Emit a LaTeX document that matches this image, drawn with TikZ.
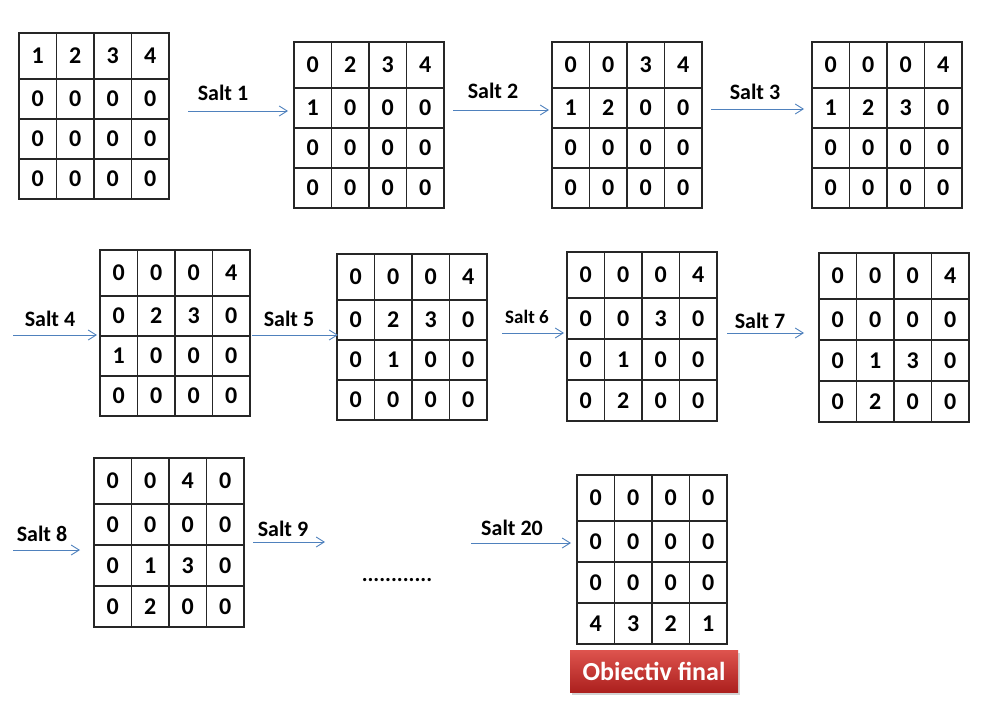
\documentclass[tikz,border=0pt]{standalone}
\usepackage{fontspec}
\setmainfont{Carlito}
\usetikzlibrary{arrows.meta,shadows}

\definecolor{fleche}{RGB}{79,129,189}
\definecolor{rougehaut}{RGB}{222,84,78}
\definecolor{rougebas}{RGB}{172,32,30}

% one 4x4 table: name, left, top, row height, rows
\newcommand{\grille}[5]{%
  \foreach \ligne [count=\i] in {#5} {
    \pgfmathsetmacro{\hc}{\i==1 ? 46 : #4}
    \pgfmathsetmacro{\yc}{\i==1 ? 23 : 46+(\i-1.5)*#4}
    \foreach \val [count=\j] in \ligne
      \node[cell, minimum height=\hc pt] (#1-\i-\j) at (#2+37.5*\j-18.75, #3+\yc) {\val};
  }
}

\begin{document}
\begin{tikzpicture}[x=1pt,y=-1pt]
    \tikzstyle{cell}=[draw=black!85, line width=1.2pt, minimum width=37.5pt, inner sep=0pt,
      font=\fontsize{24}{24}\selectfont\bfseries]
    \tikzstyle{salt}=[font=\fontsize{22}{22}\selectfont\bfseries, inner sep=0pt]
    \tikzstyle{pas}=[draw=fleche, line width=0.9pt, -{Straight Barb[length=8pt,width=10pt]}]
    \useasboundingbox (0,0) rectangle (981,706);

    % first row
    \grille{g1}{19}{33}{40}{{1,2,3,4},{0,0,0,0},{0,0,0,0},{0,0,0,0}}
    \grille{g2}{294}{42}{40}{{0,2,3,4},{1,0,0,0},{0,0,0,0},{0,0,0,0}}
    \grille{g3}{552}{42}{40}{{0,0,3,4},{1,2,0,0},{0,0,0,0},{0,0,0,0}}
    \grille{g4}{812}{42}{40}{{0,0,0,4},{1,2,3,0},{0,0,0,0},{0,0,0,0}}
    % second row
    \grille{g5}{100}{250}{40}{{0,0,0,4},{0,2,3,0},{1,0,0,0},{0,0,0,0}}
    \grille{g6}{337}{254}{40}{{0,0,0,4},{0,2,3,0},{0,1,0,0},{0,0,0,0}}
    \grille{g7}{567}{252}{41}{{0,0,0,4},{0,0,3,0},{0,1,0,0},{0,2,0,0}}
    \grille{g8}{819}{253}{41}{{0,0,0,4},{0,0,0,0},{0,1,3,0},{0,2,0,0}}
    % third row
    \grille{g9}{94}{458}{41}{{0,0,4,0},{0,0,0,0},{0,1,3,0},{0,2,0,0}}
    \grille{g10}{577}{475}{41}{{0,0,0,0},{0,0,0,0},{0,0,0,0},{4,3,2,1}}

    % arrow ends
    \coordinate (a1s) at (188,111);  \coordinate (a1e) at (288,111);
    \coordinate (a2s) at (453,110);  \coordinate (a2e) at (549,110);
    \coordinate (a3s) at (711,109);  \coordinate (a3e) at (804,109);
    \coordinate (a4s) at (13,335);   \coordinate (a4e) at (97,335);
    \coordinate (a5s) at (252,335);  \coordinate (a5e) at (338,335);
    \coordinate (a6s) at (502,333);  \coordinate (a6e) at (564,333);
    \coordinate (a7s) at (727,333);  \coordinate (a7e) at (804,333);
    \coordinate (a8s) at (13,550);   \coordinate (a8e) at (80,550);
    \coordinate (a9s) at (253,542);  \coordinate (a9e) at (325,542);
    \coordinate (a20s) at (471,543); \coordinate (a20e) at (571,543);

    \foreach \k in {1,...,9,20}
      \draw[pas] (a\k s) -- (a\k e);

    \node[salt] (s1) at (223,93) {Salt 1};
    \node[salt] (s2) at (493,91) {Salt 2};
    \node[salt] (s3) at (755,92) {Salt 3};
    \node[salt] (s4) at (50,319) {Salt 4};
    \node[salt] (s5) at (289,319) {Salt 5};
    \node[salt, font=\fontsize{19}{19}\selectfont\bfseries] (s6) at (527,317) {Salt 6};
    \node[salt] (s7) at (760,321) {Salt 7};
    \node[salt] (s8) at (42,534) {Salt 8};
    \node[salt] (s9) at (283,529) {Salt 9};
    \node[salt] (s20) at (512,528) {Salt 20};

    \node[font=\fontsize{22}{22}\selectfont\bfseries, anchor=base, inner sep=0pt] (dots) at (397,581) {............};

    \node[top color=rougehaut, bottom color=rougebas, draw=none,
      drop shadow={shadow xshift=2pt, shadow yshift=-3pt, opacity=0.35},
      minimum width=168pt, minimum height=42pt, text=white,
      font=\fontsize{26}{26}\selectfont\bfseries] (fin) at (654,671) {Obiectiv final};
    %\draw (g10-4-1) -- (fin);
\end{tikzpicture}
\end{document}
